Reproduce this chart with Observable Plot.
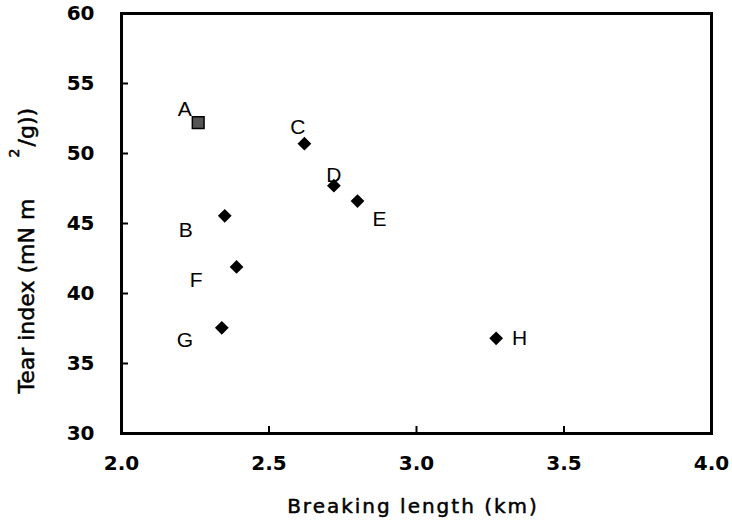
<!DOCTYPE html>
<html>
<head>
<meta charset="utf-8">
<script src="https://cdn.jsdelivr.net/npm/d3@7"></script>
<script src="https://cdn.jsdelivr.net/npm/@observablehq/plot@0.6"></script>
<style>
  html, body { margin: 0; padding: 0; background: #fff; }
</style>
</head>
<body>
<div id="chart"></div>
<script>
// ---- data ----
const samples = ["A", "B", "C", "D", "E", "F", "G", "H"];
const breakingLength = [2.26, 2.35, 2.62, 2.72, 2.80, 2.39, 2.34, 3.27]; // km
const tearIndex = [52.2, 45.55, 50.7, 47.7, 46.6, 41.9, 37.55, 36.8];   // mN m2/g
const sampleKind = ["reference", "pulp", "pulp", "pulp", "pulp", "pulp", "pulp", "pulp"];
const xTicks = [2.0, 2.5, 3.0, 3.5, 4.0];
const yTicks = [30, 35, 40, 45, 50, 55, 60];
const xTitle = "Breaking length (km)";
const yTitleMain = "Tear index (mN m";
const yTitleSup = "2";
const yTitleEnd = "/g))";

// ---- rows built from the arrays ----
const rows = samples.map((s, i) => ({ s, x: breakingLength[i], y: tearIndex[i], kind: sampleKind[i] }));

// label placement (pixels, relative to marker)
const labelOffset = {
  A: [-13.5, -13], B: [-39, 14], C: [-6.5, -16.5], D: [0, -10.5],
  E: [22, 18], F: [-40.5, 13.5], G: [-37, 12], H: [23.5, -0.5]
};

const FONT = "DejaVu Sans";

const labelMarks = rows.map(r =>
  Plot.text([r], {
    x: "x", y: "y", text: "s",
    dx: labelOffset[r.s][0], dy: labelOffset[r.s][1],
    fontSize: 21, fontFamily: "Liberation Sans", fill: "black"
  })
);

const titleStyle = { fill: "black", stroke: "black", strokeWidth: 0.5 };

const chart = Plot.plot({
  width: 732,
  height: 524,
  marginLeft: 121,
  marginRight: 21,
  marginTop: 13,
  marginBottom: 91,
  style: { fontFamily: FONT, color: "black", background: "white" },
  x: { domain: [2, 4], label: null },
  y: { domain: [30, 60], label: null },
  marks: [
    Plot.axisX({
      ticks: xTicks, tickSize: 0, tickPadding: 22,
      tickFormat: d3.format(".1f"), fontSize: 20, fontWeight: "bold", label: null
    }),
    Plot.axisY({
      ticks: yTicks, tickSize: 0, tickPadding: 27,
      tickFormat: d3.format("d"), fontSize: 20, fontWeight: "bold", label: null
    }),
    // inward tick marks
    Plot.tickX(xTicks.slice(1, -1), { x: d => d, insetTop: 413, stroke: "black", strokeWidth: 2 }),
    Plot.tickY(yTicks.slice(1, -1), { y: d => d, insetRight: 583, stroke: "black", strokeWidth: 2 }),
    Plot.frame({ stroke: "black", strokeWidth: 3 }),
    // markers
    Plot.dot(rows.filter(r => r.kind !== "reference"), {
      x: "x", y: "y", symbol: "diamond2", r: 6.2, fill: "black", stroke: "none"
    }),
    Plot.dot(rows.filter(r => r.kind === "reference"), {
      x: "x", y: "y", symbol: "square", r: 6.6, fill: "#555", stroke: "black", strokeWidth: 1.5
    }),
    ...labelMarks,
    // axis titles
    Plot.text([xTitle], {
      text: d => d, frameAnchor: "bottom", lineAnchor: "bottom",
      dx: -3.5, dy: 79, fontSize: 20, ...titleStyle
    }),
    Plot.text([yTitleMain], {
      text: d => d, frameAnchor: "left", rotate: -90, textAnchor: "start", lineAnchor: "bottom",
      dx: -88, dy: 170, fontSize: 22, ...titleStyle
    }),
    Plot.text([yTitleSup], {
      text: d => d, frameAnchor: "left", rotate: -90, textAnchor: "start", lineAnchor: "bottom",
      dx: -103, dy: -66, fontSize: 14, ...titleStyle
    }),
    Plot.text([yTitleEnd], {
      text: d => d, frameAnchor: "left", rotate: -90, textAnchor: "start", lineAnchor: "bottom",
      dx: -88, dy: -77, fontSize: 22, ...titleStyle
    })
  ]
});

// widen the x title's letter spacing like the original typography
d3.select(chart).selectAll("text").filter(function () { return this.textContent === xTitle; })
  .attr("letter-spacing", "2px");

document.getElementById("chart").appendChild(chart);
</script>
</body>
</html>
